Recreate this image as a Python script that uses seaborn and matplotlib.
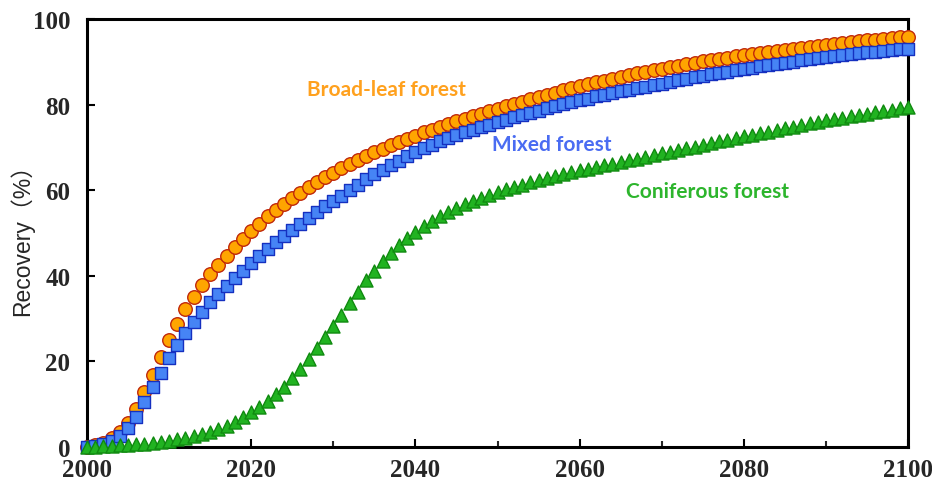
import matplotlib
matplotlib.use("Agg")
import matplotlib.pyplot as plt
from matplotlib.ticker import MultipleLocator
import numpy as np
import pandas as pd
import seaborn as sns

years = list(range(2000, 2101))

broadleaf = [
    0.0, 0.4, 1.0, 2.0, 3.4, 5.5, 8.9, 12.8, 16.9, 21.0,
    25.0, 28.7, 32.2, 35.1, 37.8, 40.3, 42.5, 44.7, 46.7, 48.6,
    50.5, 52.2, 53.9, 55.4, 56.8, 58.2, 59.4, 60.7, 61.8, 63.0,
    64.0, 65.1, 66.1, 67.1, 67.9, 68.9, 69.7, 70.5, 71.2, 72.0,
    72.7, 73.5, 74.1, 74.8, 75.5, 76.1, 76.7, 77.3, 77.9, 78.5,
    79.0, 79.6, 80.2, 80.7, 81.3, 81.8, 82.3, 82.8, 83.3, 83.8,
    84.3, 84.7, 85.2, 85.6, 86.0, 86.5, 86.9, 87.3, 87.7, 88.0,
    88.4, 88.8, 89.1, 89.4, 89.8, 90.1, 90.4, 90.7, 91.0, 91.3,
    91.6, 91.8, 92.1, 92.3, 92.6, 92.8, 93.1, 93.3, 93.5, 93.7,
    94.0, 94.2, 94.4, 94.6, 94.8, 95.0, 95.1, 95.3, 95.5, 95.7,
    95.8,
]

mixed = [
    0.0, 0.3, 0.8, 1.5, 2.5, 4.4, 7.1, 10.4, 13.9, 17.4,
    20.8, 23.9, 26.6, 29.3, 31.6, 33.8, 35.7, 37.7, 39.4, 41.2,
    42.9, 44.6, 46.2, 47.8, 49.3, 50.8, 52.1, 53.5, 54.8, 56.2,
    57.5, 58.7, 60.0, 61.3, 62.5, 63.7, 64.8, 65.9, 66.9, 67.9,
    68.9, 69.8, 70.6, 71.4, 72.1, 72.8, 73.5, 74.1, 74.7, 75.3,
    75.9, 76.5, 77.0, 77.6, 78.1, 78.6, 79.1, 79.6, 80.1, 80.5,
    81.0, 81.4, 81.9, 82.3, 82.7, 83.1, 83.5, 83.9, 84.2, 84.6,
    84.9, 85.3, 85.7, 86.0, 86.4, 86.7, 87.1, 87.4, 87.7, 88.0,
    88.3, 88.6, 88.9, 89.2, 89.5, 89.8, 90.0, 90.3, 90.6, 90.8,
    91.1, 91.3, 91.5, 91.8, 92.0, 92.2, 92.4, 92.6, 92.8, 93.0,
    93.1,
]

coniferous = [
    0.0, 0.1, 0.2, 0.3, 0.4, 0.5, 0.6, 0.8, 1.0, 1.2,
    1.5, 1.8, 2.1, 2.5, 3.0, 3.5, 4.1, 4.9, 5.8, 6.9,
    8.1, 9.3, 10.8, 12.4, 14.1, 16.1, 18.2, 20.6, 23.1, 25.6,
    28.3, 30.8, 33.6, 36.3, 38.9, 41.2, 43.4, 45.3, 47.2, 48.8,
    50.3, 51.7, 52.9, 54.0, 55.0, 55.9, 56.7, 57.5, 58.2, 58.9,
    59.6, 60.2, 60.7, 61.3, 61.8, 62.3, 62.8, 63.3, 63.8, 64.2,
    64.6, 65.0, 65.4, 65.8, 66.2, 66.6, 67.0, 67.4, 67.8, 68.2,
    68.6, 69.0, 69.4, 69.8, 70.2, 70.6, 71.0, 71.4, 71.8, 72.2,
    72.6, 73.0, 73.4, 73.7, 74.1, 74.5, 74.8, 75.2, 75.6, 75.9,
    76.3, 76.6, 76.9, 77.3, 77.6, 77.9, 78.2, 78.5, 78.8, 79.1,
    79.4,
]

series_names = ["Broad-leaf forest", "Mixed forest", "Coniferous forest"]
x_ticks = [2000, 2020, 2040, 2060, 2080, 2100]
y_ticks = [0, 20, 40, 60, 80, 100]

sns.set_style("white")

fig = plt.figure(figsize=(9.32, 5.02), dpi=100)
ax = fig.add_axes([0.0933, 0.1076, 0.881, 0.8526])

styles = [
    # name, values, marker, face, edge, size, text colour, text position
    (series_names[0], broadleaf, "o", "#FFA500", "#C0280A", 95, "#FFA11E", (2026.8, 83.6)),
    (series_names[1], mixed, "s", "#4684F5", "#1530C0", 78, "#4A6CF2", (2049.3, 70.8)),
    (series_names[2], coniferous, "^", "#21B321", "#108A10", 88, "#2DB52D", (2065.6, 59.8)),
]

for name, vals, marker, face, edge, size, tcol, pos in styles:
    df = pd.DataFrame({"year": years, "recovery": vals})
    sns.scatterplot(data=df, x="year", y="recovery", marker=marker, s=size,
                    color=face, edgecolor=edge, linewidth=1.0, ax=ax,
                    legend=False, zorder=3, clip_on=False)
    ax.text(pos[0], pos[1], name, color=tcol, fontsize=15, fontweight="bold",
            family=["Lato", "DejaVu Sans"], ha="left", va="center")

ax.set_xlim(2000, 2100)
ax.set_ylim(0, 100)
ax.set_xticks(x_ticks)
ax.set_yticks(y_ticks)
ax.xaxis.set_minor_locator(MultipleLocator(10))

for lbl in ax.get_xticklabels() + ax.get_yticklabels():
    lbl.set_family(["Liberation Serif", "DejaVu Serif"])
    lbl.set_fontweight("bold")
    lbl.set_fontsize(18)

ax.tick_params(axis="both", which="major", direction="in", length=6, width=1.5,
               color="black", pad=8, bottom=True, left=True, top=False, right=False)
ax.tick_params(axis="x", which="minor", direction="in", length=4, width=1.5,
               bottom=True, top=False)
ax.tick_params(axis="y", pad=12)

for side in ["left", "bottom", "top", "right"]:
    ax.spines[side].set_visible(True)
    ax.spines[side].set_color("black")
    ax.spines[side].set_linewidth(2.2)

ax.set_xlabel("")
ax.set_ylabel("Recovery（%）", fontsize=16.5, family=["Liberation Sans", "Noto Sans CJK SC"],
              labelpad=-1)

fig.savefig("out.png", dpi=100, facecolor="white")
